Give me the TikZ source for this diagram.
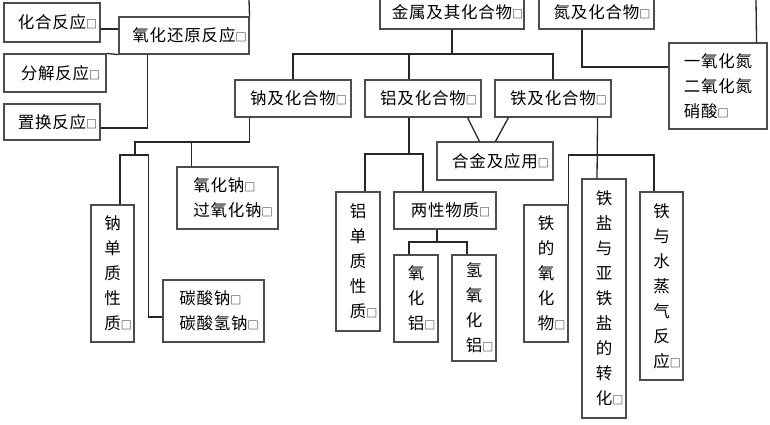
\documentclass[tikz,border=0pt]{standalone}
\usepackage{fontspec}
\usetikzlibrary{calc}
\newfontfamily\cjk[LetterSpace=5]{Noto Sans CJK SC}
\newcommand{\bx}{\rlap{\fontsize{11}{11}\selectfont □}}

\begin{document}
\begin{tikzpicture}[
    x=1pt, y=-1pt,
    box/.style={draw=black!70, line width=1.1pt, inner sep=0pt, align=center, font=\cjk\fontsize{16.5}{25}\selectfont},
    wh/.style 2 args={minimum width=#1, minimum height=#2},
    link/.style={draw=black!85, line width=1.3pt}
]
\useasboundingbox (0,0) rectangle (770,424);
\clip (0,0) rectangle (770,424);
\fill[white] (0,0) rectangle (770,424);

% reactions
\node[box, wh={96}{39}] at (52,22.5) (huahe) {化合反应\bx};
\node[box, wh={130}{37}] at (184,35.5) (yanghua) {氧化还原反应\bx};
\node[box, wh={102}{38}] at (55,73) (fenjie) {分解反应\bx};
\node[box, wh={96}{36}] at (52,122) (zhihuan) {置换反应\bx};

% top row
\node[box, wh={144}{33}] at (452,12.5) (jinshu) {金属及其化合物\bx};
\node[box, wh={115}{33}] at (596.5,12.5) (dan) {氮及化合物\bx};
\node[box, wh={98}{86}, align=left] at (718,86) (no) {一氧化氮\\二氧化氮\\硝酸\bx};

\node[box, wh={116}{37}] at (293,98.5) (na) {钠及化合物\bx};
\node[box, wh={116}{37}] at (423,98.5) (al) {铝及化合物\bx};
\node[box, wh={116}{37}] at (553,98.5) (fe) {铁及化合物\bx};
\node[box, wh={116}{38}] at (495,161) (hejin) {合金及应用\bx};

% sodium
\node[box, wh={43}{137}] at (112.5,273.5) (nadz) {钠\\单\\质\\性\\质\bx};
\node[box, wh={101}{62}, align=left] at (227.5,198) (nayh) {氧化钠\bx\\过氧化钠\bx};
\node[box, wh={101}{62}, align=left] at (213.5,311) (natsn) {碳酸钠\bx\\碳酸氢钠\bx};

% aluminium
\node[box, wh={44}{139}] at (358,261.5) (aldz) {铝\\单\\质\\性\\质\bx};
\node[box, wh={102}{37}] at (445,210.5) (liangxing) {两性物质\bx};
\node[box, wh={44}{87}] at (416,298.5) (alyh) {氧\\化\\铝\bx};
\node[box, wh={44}{106}] at (474,308) (alqy) {氢\\氧\\化\\铝\bx};

% iron
\node[box, wh={44}{137}] at (546,273.5) (feyh) {铁\\的\\氧\\化\\物\bx};
\node[box, wh={44}{239}] at (604,298.5) (fey) {铁\\盐\\与\\亚\\铁\\盐\\的\\转\\化\bx};
\node[box, wh={43}{188}] at (661.5,286) (fesz) {铁\\与\\水\\蒸\\气\\反\\应\bx};

\coordinate (t1) at (249,0);
\coordinate (t2) at (756,0);
\coordinate (jbus) at (452,54);
\coordinate (nab) at (135,142);
\coordinate (nac) at (135,155);
\coordinate (alb) at (409,154);
\coordinate (lxb) at (437,242);
\coordinate (feb) at (654,155);

% reaction links
\draw[link] ($(huahe.east)+(0,6.5)$) -- ($(yanghua.west)+(0,-6.5)$);
\draw[link] (fenjie.north east) -- (yanghua.south west);
\draw[link] ($(zhihuan.east)+(0,6)$) -| ($(yanghua.south west)+(29,0)$);
\draw[link] (t1) -- (yanghua.north east);

% metal links
\draw[link] (jinshu.south) -- (jbus);
\draw[link] (na.north) |- (jbus) -| (fe.north);
\draw[link] ($(al.north)+(-14,0)$) -- ++(0,-26);

% nitrogen links
\draw[link] ($(dan.south)+(-14.5,0)$) |- ($(no.west)+(0,-19)$);
\draw[link] (t2) -- ($(no.north east)+(-11,0)$);

% sodium links
\draw[link] ($(na.south west)+(15,0)$) |- (nab) -- (nac);
\draw[link] ($(nayh.north west)+(15,0)$) -- ++(0,-25);
\draw[link] ($(nadz.north)+(7.5,0)$) |- (nac) -| ($(natsn.west)+(-14,6)$) -- ($(natsn.west)+(0,6)$);

% aluminium links
\draw[link] ($(al.south)+(-14,0)$) -- (alb);
\draw[link] ($(aldz.north)+(7,0)$) |- (alb) -| ($(liangxing.north)+(-22,0)$);
\draw[link] ($(liangxing.south)+(-8,0)$) -- (lxb);
\draw[link] ($(alyh.north)+(-7,0)$) |- (lxb) -| ($(alqy.north)+(-7,0)$);

% alloy links
\draw[link] ($(al.south east)+(-14,0)$) -- ($(hejin.north west)+(43,0)$);
\draw[link] ($(fe.south west)+(14,0)$) -- ($(hejin.north west)+(59,0)$);

% iron links
\draw[link] ($(fe.south east)+(-14,0)$) -- ($(fey.north)+(-7,0)$);
\draw[link] (feyh.north east) |- (feb) -- ($(fesz.north)+(-7.5,0)$);
\end{tikzpicture}
\end{document}
